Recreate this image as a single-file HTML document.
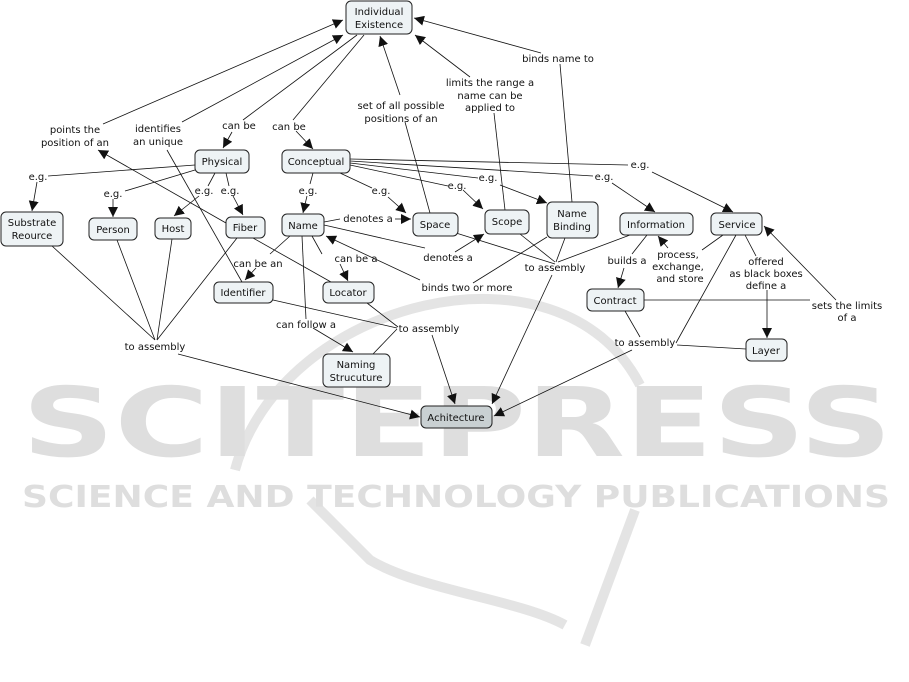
<!DOCTYPE html>
<html><head><meta charset="utf-8"><style>
html,body{margin:0;padding:0;background:#fff;}
svg{display:block;}
text{font-family:"DejaVu Sans","Liberation Sans",sans-serif;font-size:10px;fill:#111;}
.n rect{fill:#eef3f5;stroke:#222;stroke-width:1;}
.l{stroke:#111;stroke-width:0.8;fill:none;}
.a{stroke:#111;stroke-width:0.8;fill:none;marker-end:url(#ar);}
.wm{font-family:"DejaVu Sans","Liberation Sans",sans-serif;fill:#dedede;font-weight:bold;}
</style></head><body>
<svg width="909" height="682" viewBox="0 0 909 682" xmlns="http://www.w3.org/2000/svg">
<defs><marker id="ar" viewBox="0 0 10 10" refX="10" refY="5" markerWidth="10" markerHeight="10" markerUnits="userSpaceOnUse" orient="auto"><path d="M0,0 L10,5 L0,10 z" fill="#111"/></marker></defs>
<!-- watermark -->
<path d="M235,470 C280,300 560,230 640,385" stroke="#e4e4e4" stroke-width="10" fill="none"/>
<path d="M310,500 L370,560 C420,590 520,600 565,625" stroke="#e4e4e4" stroke-width="10" fill="none"/>
<path d="M635,510 L585,645" stroke="#e4e4e4" stroke-width="10" fill="none"/>
<text class="wm" x="22" y="456" style="font-size:96px" textLength="870" lengthAdjust="spacingAndGlyphs">SCITEPRESS</text>
<text class="wm" x="22" y="507" style="font-size:30px" textLength="868" lengthAdjust="spacingAndGlyphs">SCIENCE AND TECHNOLOGY PUBLICATIONS</text>
<g>
<path class="a" d="M103,124 L343,20"/>
<path class="a" d="M226,223 L98,150"/>
<path class="a" d="M182,122 L343,35"/>
<path class="l" d="M242,282 L167,150"/>
<path class="l" d="M357,35 L243,120"/><path class="a" d="M232,132 L223,148"/>
<path class="l" d="M364,35 L293,120"/><path class="a" d="M296,131 L313,149"/>
<path class="l" d="M430,213 L405,122"/><path class="a" d="M400,95 L380,36"/>
<path class="l" d="M505,210 L494,113"/><path class="a" d="M470,77 L415,35"/>
<path class="l" d="M572,202 L560,64"/><path class="a" d="M541,53 L414,18"/>
<path class="l" d="M195,165 L48,176"/><path class="a" d="M37,182 L32,211"/>
<path class="l" d="M195,170 L125,191"/><path class="a" d="M113,199 L113,217"/>
<path class="l" d="M215,173 L208,186"/><path class="a" d="M199,196 L174,216"/>
<path class="l" d="M226,173 L229,186"/><path class="a" d="M233,196 L243,215"/>
<path class="l" d="M313,173 L310,184"/><path class="a" d="M307,196 L303,213"/>
<path class="l" d="M340,173 L372,188"/><path class="a" d="M388,197 L406,213"/>
<path class="l" d="M350,165 L448,186"/><path class="a" d="M463,190 L483,209"/>
<path class="l" d="M350,163 L478,178"/><path class="a" d="M500,185 L547,203"/>
<path class="l" d="M350,161 L593,176"/><path class="a" d="M612,183 L655,212"/>
<path class="l" d="M350,159 L628,165"/><path class="a" d="M652,172 L733,212"/>
<path class="l" d="M324,222 L340,219"/><path class="a" d="M395,219 L411,219"/>
<path class="l" d="M324,225 L425,248"/><path class="a" d="M455,252 L484,234"/>
<path class="l" d="M547,237 L473,283"/><path class="a" d="M420,280 L326,236"/>
<path class="l" d="M290,236 L270,254"/><path class="a" d="M256,268 L245,280"/>
<path class="l" d="M312,236 L322,254"/><path class="a" d="M340,264 L348,281"/>
<path class="l" d="M302,236 L306,319"/><path class="a" d="M313,328 L353,352"/>
<path class="l" d="M253,238 L331,282"/>
<path class="l" d="M52,246 L155,340 M117,240 L155,340 M172,239 L157,340 M237,238 L157,340"/>
<path class="a" d="M178,354 L420,417"/>
<path class="l" d="M273,300 L397,328 M367,303 L398,327 M373,354 L397,329"/>
<path class="a" d="M432,335 L455,404"/>
<path class="l" d="M456,233 L555,264 M520,234 L555,262 M565,238 L556,262 M630,235 L558,262"/>
<path class="a" d="M552,275 L492,404"/>
<path class="l" d="M647,235 L632,254"/><path class="a" d="M624,268 L618,288"/>
<path class="l" d="M723,235 L702,250"/><path class="a" d="M668,248 L658,236"/>
<path class="l" d="M745,235 L756,256"/><path class="a" d="M767,290 L767,338"/>
<path class="l" d="M644,300 L810,300"/><path class="a" d="M836,300 L764,226"/>
<path class="l" d="M625,311 L640,337 M736,235 L676,343 M746,349 L677,345"/>
<path class="a" d="M632,350 L494,416"/>
</g>
<g text-anchor="middle">
<text x="75" y="133">points the</text><text x="75" y="146">position of an</text>
<text x="158" y="132">identifies</text><text x="158" y="145">an unique</text>
<text x="239" y="129">can be</text>
<text x="289" y="130">can be</text>
<text x="401" y="109">set of all possible</text><text x="401" y="122">positions of an</text>
<text x="490" y="86">limits the range a</text><text x="490" y="99">name can be</text><text x="490" y="111">applied to</text>
<text x="558" y="62">binds name to</text>
<text x="38" y="180">e.g.</text>
<text x="113" y="197">e.g.</text>
<text x="204" y="194">e.g.</text>
<text x="230" y="194">e.g.</text>
<text x="308" y="194">e.g.</text>
<text x="381" y="194">e.g.</text>
<text x="457" y="189">e.g.</text>
<text x="488" y="181">e.g.</text>
<text x="604" y="180">e.g.</text>
<text x="640" y="168">e.g.</text>
<text x="368" y="222">denotes a</text>
<text x="448" y="261">denotes a</text>
<text x="467" y="291">binds two or more</text>
<text x="258" y="267">can be an</text>
<text x="356" y="262">can be a</text>
<text x="306" y="328">can follow a</text>
<text x="155" y="350">to assembly</text>
<text x="429" y="332">to assembly</text>
<text x="555" y="271">to assembly</text>
<text x="627" y="264">builds a</text>
<text x="678" y="258">process,</text><text x="678" y="270">exchange,</text><text x="680" y="282">and store</text>
<text x="766" y="265">offered</text><text x="766" y="277">as black boxes</text><text x="766" y="289">define a</text>
<text x="847" y="309">sets the limits</text><text x="847" y="321">of a</text>
<text x="645" y="346">to assembly</text>
</g>
<g class="n" text-anchor="middle">
<rect x="346" y="1" width="66" height="33" rx="5"/><text x="379" y="15">Individual</text><text x="379" y="28">Existence</text>
<rect x="195" y="150" width="54" height="23" rx="5"/><text x="222" y="165">Physical</text>
<rect x="282" y="150" width="68" height="23" rx="5"/><text x="316" y="165">Conceptual</text>
<rect x="1" y="212" width="62" height="34" rx="5"/><text x="32" y="226">Substrate</text><text x="32" y="239">Reource</text>
<rect x="89" y="218" width="48" height="22" rx="5"/><text x="113" y="233">Person</text>
<rect x="155" y="218" width="36" height="21" rx="5"/><text x="173" y="232">Host</text>
<rect x="226" y="217" width="39" height="21" rx="5"/><text x="245" y="231">Fiber</text>
<rect x="282" y="214" width="42" height="22" rx="5"/><text x="303" y="229">Name</text>
<rect x="413" y="213" width="45" height="23" rx="5"/><text x="435" y="228">Space</text>
<rect x="485" y="210" width="44" height="24" rx="5"/><text x="507" y="225">Scope</text>
<rect x="547" y="202" width="51" height="36" rx="5"/><text x="572" y="217">Name</text><text x="572" y="230">Binding</text>
<rect x="620" y="213" width="73" height="22" rx="5"/><text x="656" y="228">Information</text>
<rect x="711" y="213" width="51" height="22" rx="5"/><text x="737" y="228">Service</text>
<rect x="214" y="282" width="59" height="21" rx="5"/><text x="243" y="296">Identifier</text>
<rect x="323" y="282" width="51" height="21" rx="5"/><text x="348" y="296">Locator</text>
<rect x="587" y="289" width="57" height="22" rx="5"/><text x="615" y="304">Contract</text>
<rect x="323" y="354" width="67" height="33" rx="5"/><text x="356" y="368">Naming</text><text x="356" y="381">Strucuture</text>
<rect x="746" y="339" width="41" height="22" rx="5"/><text x="766" y="354">Layer</text>
<rect x="421" y="406" width="71" height="22" rx="5" style="fill:#c9d0d2"/><text x="456" y="421">Achitecture</text>
</g>
</svg>
</body></html>
